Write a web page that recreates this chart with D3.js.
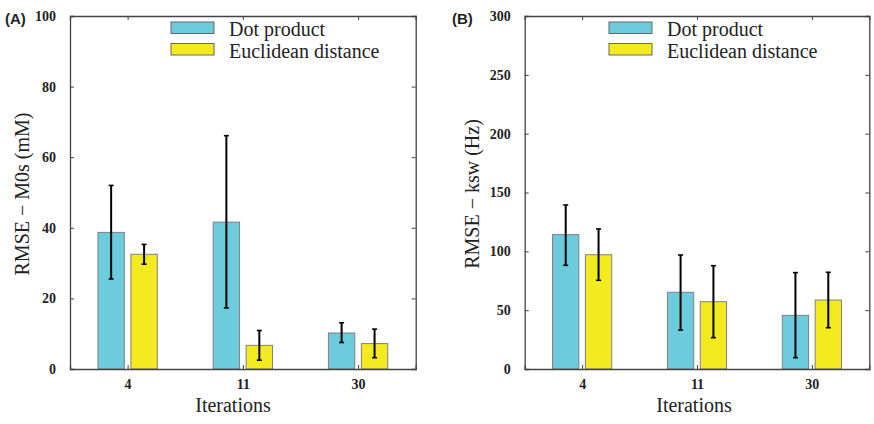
<!DOCTYPE html>
<html><head><meta charset="utf-8">
<script src="https://cdn.jsdelivr.net/npm/d3@7"></script>
<style>body{margin:0;background:#fff}svg{display:block}</style>
</head><body>
<svg id="c" width="874" height="424"></svg>
<script>
const categories = ["4", "11", "30"];
const seriesNames = ["Dot product", "Euclidean distance"];
const colors = ["#6ccbdc", "#f3ea1f"];

// Panel A: RMSE - M0s (mM)
const m0sDot = [38.7, 41.6, 10.2];
const m0sDotLo = [25.5, 17.3, 7.5];
const m0sDotHi = [52.0, 66.1, 13.1];
const m0sEuc = [32.5, 6.7, 7.2];
const m0sEucLo = [29.7, 2.5, 3.2];
const m0sEucHi = [35.3, 10.9, 11.3];
const m0sTicks = [0, 20, 40, 60, 80, 100];

// Panel B: RMSE - ksw (Hz)
const kswDot = [114.2, 65.2, 45.6];
const kswDotLo = [88.1, 33.1, 9.6];
const kswDotHi = [139.4, 96.9, 81.9];
const kswEuc = [97.1, 57.2, 58.6];
const kswEucLo = [75.4, 26.6, 35.1];
const kswEucHi = [119.0, 87.8, 82.2];
const kswTicks = [0, 50, 100, 150, 200, 250, 300];

const svg = d3.select("#c");

function panel(opt) {
  const g = svg.append("g");
  const x = d3.scaleLinear().domain([0.5, 3.5]).range([opt.left, opt.right]);
  const y = d3.scaleLinear().domain([0, opt.max]).range([369, 16]);
  const bw = 0.229, off = 0.143;
  const series = [
    {v: opt.dot, lo: opt.dotLo, hi: opt.dotHi, c: colors[0], o: -off},
    {v: opt.euc, lo: opt.eucLo, hi: opt.eucHi, c: colors[1], o: off}
  ];
  series.forEach(s => {
    g.selectAll(null).data(categories).enter().append("rect")
      .attr("x", (d, i) => x(i + 1 + s.o - bw / 2))
      .attr("width", (d, i) => x(i + 1 + s.o + bw / 2) - x(i + 1 + s.o - bw / 2))
      .attr("y", (d, i) => y(s.v[i]))
      .attr("height", (d, i) => y(0) - y(s.v[i]))
      .attr("fill", s.c).attr("stroke", "#808080").attr("stroke-width", 1);
  });
  series.forEach(s => {
    categories.forEach((d, i) => {
      const cx = x(i + 1 + s.o);
      g.append("line").attr("x1", cx).attr("x2", cx).attr("y1", y(s.lo[i])).attr("y2", y(s.hi[i]))
        .attr("stroke", "#000").attr("stroke-width", 2);
      [s.lo[i], s.hi[i]].forEach(v => {
        g.append("line").attr("x1", cx - 2.5).attr("x2", cx + 2.5).attr("y1", y(v)).attr("y2", y(v))
          .attr("stroke", "#000").attr("stroke-width", 1.6);
      });
    });
  });
  // axes
  const axL = d3.axisLeft(y).tickValues(opt.ticks).tickSize(-4).tickPadding(14);
  const axR = d3.axisRight(y).tickValues(opt.ticks).tickSize(-4).tickFormat("");
  const axB = d3.axisBottom(x).tickValues([1, 2, 3]).tickSize(-4).tickPadding(10).tickFormat((d) => categories[d - 1]);
  const axT = d3.axisTop(x).tickValues([1, 2, 3]).tickSize(-4).tickFormat("");
  [[axL, `translate(${opt.left},0)`], [axR, `translate(${opt.right},0)`],
   [axB, `translate(0,369)`], [axT, `translate(0,16)`]].forEach(([ax, t]) => {
    const a = g.append("g").attr("transform", t).call(ax);
    a.select(".domain").attr("stroke", "#444").attr("stroke-width", 1.3);
    a.selectAll(".tick line").attr("stroke", "#444");
    a.selectAll("text").attr("font-family", "Liberation Serif").attr("font-weight", "bold")
      .attr("font-size", 14).attr("fill", "#222");
  });
  // labels
  g.append("text").attr("x", opt.xlabX).attr("y", 412).attr("text-anchor", "middle")
    .attr("font-family", "Liberation Serif").attr("font-size", 20).attr("fill", "#222").text("Iterations");
  g.append("text").attr("transform", `translate(${opt.ylabX},194) rotate(-90)`).attr("text-anchor", "middle")
    .attr("font-family", "Liberation Serif").attr("font-size", 20).attr("fill", "#222").text(opt.ylab);
  g.append("text").attr("x", opt.tagX).attr("y", 24).attr("font-family", "Liberation Sans")
    .attr("font-weight", "bold").attr("font-size", 15).attr("fill", "#222").text(opt.tag);
  // legend
  seriesNames.forEach((n, i) => {
    const yy = 22 + i * 21.5;
    g.append("rect").attr("x", opt.legX).attr("y", yy).attr("width", 43).attr("height", 11.5)
      .attr("fill", colors[i]).attr("stroke", "#666").attr("stroke-width", 1);
    g.append("text").attr("x", opt.legX + 58).attr("y", yy + 14).attr("font-family", "Liberation Serif")
      .attr("font-size", 20).attr("fill", "#222").text(n);
  });
}

panel({left: 70, right: 415.7, max: 100, ticks: m0sTicks,
  dot: m0sDot, dotLo: m0sDotLo, dotHi: m0sDotHi, euc: m0sEuc, eucLo: m0sEucLo, eucHi: m0sEucHi,
  ylab: "RMSE \u2212 M0s (mM)", ylabX: 29, xlabX: 233, tag: "(A)", tagX: 5, legX: 171});
panel({left: 524.7, right: 869.3, max: 300, ticks: kswTicks,
  dot: kswDot, dotLo: kswDotLo, dotHi: kswDotHi, euc: kswEuc, eucLo: kswEucLo, eucHi: kswEucHi,
  ylab: "RMSE \u2212 ksw (Hz)", ylabX: 478.5, xlabX: 694, tag: "(B)", tagX: 452, legX: 609});
</script>
</body></html>
